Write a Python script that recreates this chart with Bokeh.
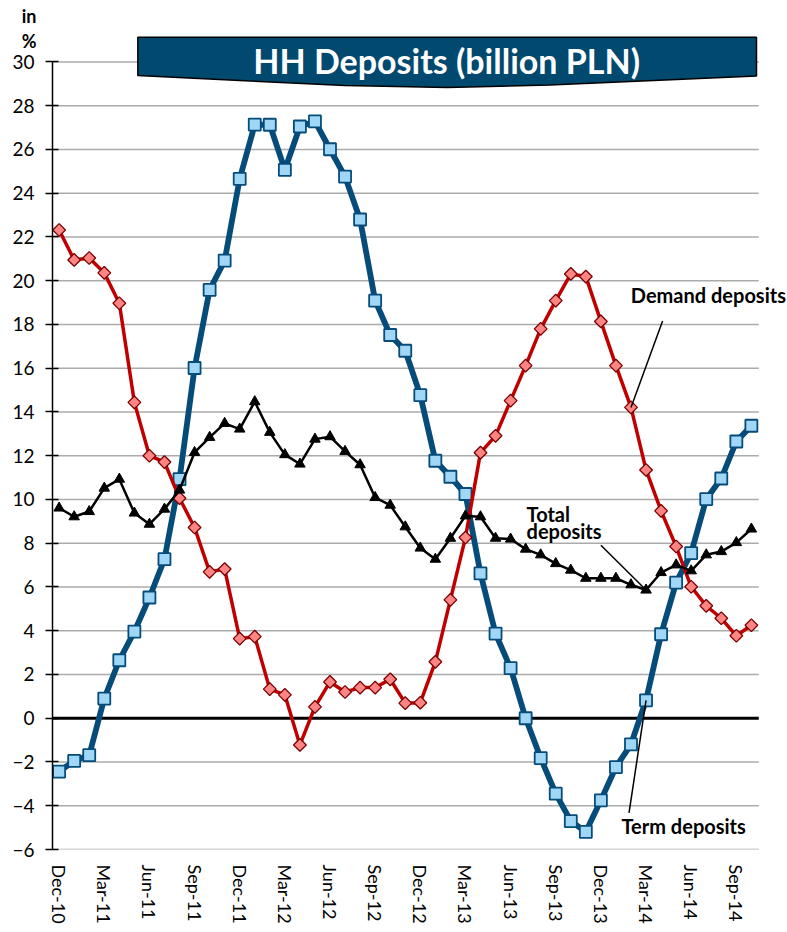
import numpy as np
from bokeh.plotting import figure
from bokeh.models import Range1d, FixedTicker, Label, LinearAxis
from bokeh.core.properties import value
from bokeh.embed import file_html
from bokeh.resources import INLINE

months = ["Dec-10", "Jan-11", "Feb-11", "Mar-11", "Apr-11", "May-11", "Jun-11", "Jul-11", "Aug-11",
          "Sep-11", "Oct-11", "Nov-11", "Dec-11", "Jan-12", "Feb-12", "Mar-12", "Apr-12", "May-12",
          "Jun-12", "Jul-12", "Aug-12", "Sep-12", "Oct-12", "Nov-12", "Dec-12", "Jan-13", "Feb-13",
          "Mar-13", "Apr-13", "May-13", "Jun-13", "Jul-13", "Aug-13", "Sep-13", "Oct-13", "Nov-13",
          "Dec-13", "Jan-14", "Feb-14", "Mar-14", "Apr-14", "May-14", "Jun-14", "Jul-14", "Aug-14",
          "Sep-14", "Oct-14"]

term_deposits = [-2.44, -1.95, -1.69, 0.90, 2.65, 3.96, 5.52, 7.27, 10.93, 16.01, 19.58, 20.92,
                 24.66, 27.14, 27.13, 25.07, 27.05, 27.28, 26.01, 24.76, 22.80, 19.09, 17.52, 16.80,
                 14.77, 11.77, 11.04, 10.25, 6.62, 3.87, 2.29, 0.00, -1.82, -3.45, -4.70, -5.19,
                 -3.75, -2.23, -1.19, 0.82, 3.84, 6.20, 7.55, 10.02, 10.96, 12.65, 13.37]

demand_deposits = [22.32, 20.95, 21.04, 20.36, 18.97, 14.44, 12.00, 11.71, 10.06, 8.72, 6.69, 6.82,
                   3.64, 3.73, 1.33, 1.07, -1.22, 0.52, 1.66, 1.20, 1.40, 1.40, 1.78, 0.69,
                   0.71, 2.58, 5.41, 8.26, 12.14, 12.91, 14.52, 16.12, 17.80, 19.09, 20.31, 20.19,
                   18.14, 16.12, 14.21, 11.35, 9.48, 7.85, 6.01, 5.14, 4.57, 3.77, 4.25]

total_deposits = [9.61, 9.21, 9.45, 10.52, 10.93, 9.38, 8.87, 9.56, 10.43, 12.15, 12.84, 13.48,
                  13.22, 14.47, 13.07, 12.05, 11.62, 12.76, 12.87, 12.20, 11.59, 10.09, 9.74, 8.75,
                  7.78, 7.27, 8.23, 9.25, 9.21, 8.23, 8.19, 7.73, 7.47, 7.07, 6.77, 6.40,
                  6.40, 6.40, 6.10, 5.86, 6.66, 7.01, 6.74, 7.47, 7.62, 8.03, 8.65]

y_ticks = list(range(-6, 31, 2))
x_tick_idx = list(range(0, len(months), 3))
unit_labels = {32.08: "in", 30.98: "%"}

title_text = "HH Deposits (billion PLN)"
FONT = "Lato"

x = list(range(len(months)))
X0, XG = -0.44, 46.49          # frame start, end of grid lines
Y0, Y1 = -6, 32.81

p = figure(width=787, height=932, output_backend="svg", toolbar_location=None,
           x_range=Range1d(X0, 48.40), y_range=Range1d(Y0, Y1),
           min_border_left=52, min_border_right=0, min_border_top=0, min_border_bottom=83)
p.outline_line_color = None
p.background_fill_color = "white"

# y axis
p.yaxis.ticker = FixedTicker(ticks=y_ticks)
p.yaxis.bounds = (-6, 30)
p.yaxis.axis_line_color = "black"
p.yaxis.axis_line_width = 1.5
p.yaxis.major_tick_line_color = "black"
p.yaxis.major_tick_line_width = 1.5
p.yaxis.major_tick_in = 6
p.yaxis.major_tick_out = 7
p.yaxis.minor_tick_line_color = None
p.yaxis.major_label_text_font = FONT
p.yaxis.major_label_text_font_size = "19px"
p.yaxis.major_label_text_color = "black"
p.yaxis.major_label_standoff = 11

# unit label ("in %") as an outer, line-less axis
unit_axis = LinearAxis(ticker=FixedTicker(ticks=list(unit_labels)),
                       major_label_overrides=unit_labels,
                       axis_line_color=None, major_tick_line_color=None,
                       minor_tick_line_color=None, major_tick_in=0, major_tick_out=0,
                       major_label_standoff=-27, major_label_text_font=FONT,
                       major_label_text_font_style="bold", major_label_text_font_size="18px",
                       major_label_text_color="black")
p.add_layout(unit_axis, "left")

# x axis
p.xaxis.ticker = FixedTicker(ticks=x_tick_idx)
p.xaxis.major_label_overrides = {i: months[i] for i in x_tick_idx}
p.xaxis.major_label_orientation = "vertical"
p.xaxis.axis_line_color = None
p.xaxis.major_tick_line_color = None
p.xaxis.minor_tick_line_color = None
p.xaxis.major_tick_out = 0
p.xaxis.major_tick_in = 0
p.xaxis.major_label_standoff = 15
p.xaxis.major_label_text_font = FONT
p.xaxis.major_label_text_font_size = "18px"
p.xaxis.major_label_text_color = "black"

# horizontal grid lines (limited to the category area) and zero line
p.xgrid.grid_line_color = None
p.ygrid.grid_line_color = None
p.segment(x0=[X0] * len(y_ticks), y0=y_ticks, x1=[XG] * len(y_ticks), y1=y_ticks,
          line_color="#ABABAB", line_width=1.5)
p.segment(x0=[X0], y0=[0], x1=[XG], y1=[0], line_color="black", line_width=3)

# series
term_c = "#064C7A"
p.line(x, term_deposits, line_color=term_c, line_width=5.8, line_join="round")
p.scatter(x, term_deposits, marker="square", size=12, fill_color="#A0D6F6",
          line_color=term_c, line_width=1.8)

red_c = "#C00000"
p.line(x, demand_deposits, line_color=red_c, line_width=3.5, line_join="round")
p.scatter(x, demand_deposits, marker="square", angle=np.pi / 4, size=9,
          fill_color="#FF8585", line_color="#7A0000", line_width=1.3)

p.line(x, total_deposits, line_color="black", line_width=2.5, line_join="round")
p.scatter(x, total_deposits, marker="triangle", size=10.5, fill_color="black", line_color="black")

# banner title
bx = [5.23, 12.0, 19.0, 25.8, 32.6, 39.5, 46.34, 46.34, 5.23]
by = [29.38, 29.15, 28.92, 28.83, 28.95, 29.15, 29.36, 31.13, 31.13]
p.patch(bx, by, fill_color="#01496F", line_color="black", line_width=1.5)
p.text(x=[25.75], y=[30.05], text=[title_text], text_font=value(FONT), text_font_style="bold",
       text_font_size="34px", text_color="white", text_align="center", text_baseline="middle")


def ann(txt, xx, yy):
    p.add_layout(Label(x=xx, y=yy, text=txt, text_font=FONT, text_font_style="bold",
                       text_font_size="20px", text_color="black", text_align="left",
                       text_baseline="alphabetic"))


ann("Demand deposits", 37.99, 19.36)
ann("Total", 31.06, 9.34)
ann("deposits", 31.06, 8.55)
ann("Term deposits", 37.37, -4.93)

i_d, i_t = 38, 39
p.segment(x0=[i_d + 2.1], y0=[demand_deposits[i_d] + 3.95], x1=[i_d], y1=[demand_deposits[i_d]],
          line_color="black", line_width=1.5)
p.segment(x0=[i_t - 3.0], y0=[total_deposits[i_t] + 2.05], x1=[i_t], y1=[total_deposits[i_t]],
          line_color="black", line_width=1.5)
p.segment(x0=[i_t - 1.13], y0=[term_deposits[i_t] - 5.15], x1=[i_t], y1=[term_deposits[i_t]],
          line_color="black", line_width=1.5)

open("out.html", "w").write(file_html(p, INLINE))
